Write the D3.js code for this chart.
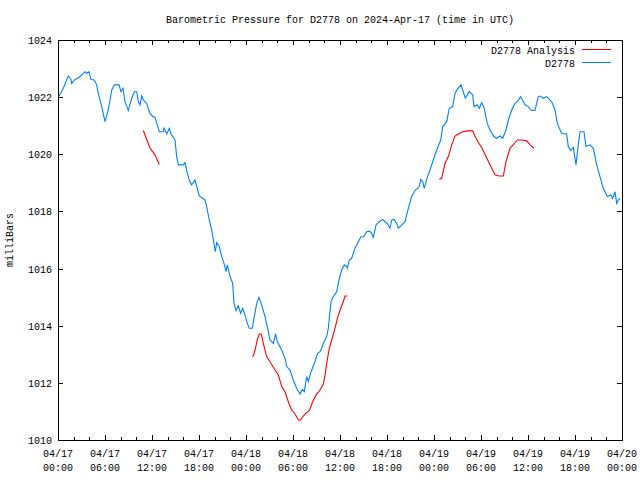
<!DOCTYPE html>
<html>
<head>
<meta charset="utf-8">
<script src="https://cdn.jsdelivr.net/npm/d3@7"></script>
<style>
  html, body { margin: 0; padding: 0; background: #ffffff; }
  svg text { font-family: "Liberation Mono", "DejaVu Sans Mono", monospace; font-size: 10px; fill: #000; }
</style>
</head>
<body>
<svg id="chart" width="640" height="480"></svg>
<script>
// ---- Data (hours since 2024-04-17 00:00 UTC, pressure in mb) ----
const stationHours = [0.13,0.68,1.31,1.66,1.75,2.17,2.68,3.45,3.66,3.96,4.21,4.63,4.94,5.14,5.58,6.0,6.42,6.86,7.19,7.79,8.04,8.30,8.55,8.97,9.41,9.74,10.05,10.25,10.47,10.69,10.89,11.32,11.74,12.04,12.38,12.93,13.44,13.53,13.88,14.21,14.39,14.72,14.94,15.15,15.36,16.0,16.21,16.51,16.76,17.07,17.49,17.71,18.04,18.47,18.77,18.98,19.31,19.62,19.91,20.08,20.26,20.59,20.90,21.19,21.45,21.61,21.96,22.30,22.47,22.72,23.02,23.32,23.58,23.87,24.17,24.42,24.80,25.06,25.37,25.66,26.0,26.43,26.77,27.06,27.49,27.79,28.0,28.56,28.98,29.20,29.62,30.04,30.47,30.89,31.19,31.44,31.75,31.95,32.30,32.81,33.15,33.45,33.66,33.87,34.30,34.51,34.85,35.14,35.58,35.87,36.22,36.55,36.86,36.93,37.19,37.49,37.91,38.34,38.64,39.06,39.41,39.74,40.05,40.25,40.6,41.02,41.45,41.74,42.04,42.38,42.6,42.89,43.24,43.44,43.88,44.3,44.72,45.15,45.57,45.87,46.12,46.3,46.56,46.76,47.14,47.49,47.91,48.26,48.86,49.11,49.62,49.95,50.39,50.68,50.97,51.45,51.66,52.0,52.5,52.94,53.11,53.53,53.79,54.09,54.38,54.8,55.15,55.66,56.0,56.43,56.77,57.19,57.49,57.92,58.34,58.64,59.07,59.32,59.62,60.04,60.47,60.89,61.31,61.53,61.95,62.39,63.03,63.45,63.74,64.3,64.94,65.14,65.45,65.78,66.13,66.42,66.64,67.15,67.4,67.91,68.34,68.77,69.19,69.61,70.12,70.56,70.81,71.11,71.32,71.53,71.74];
const stationValues = [1022.04,1022.31,1022.74,1022.62,1022.48,1022.62,1022.69,1022.89,1022.83,1022.89,1022.62,1022.60,1022.43,1022.13,1021.67,1021.14,1021.55,1022.25,1022.43,1022.43,1022.19,1022.31,1021.84,1021.53,1021.96,1022.19,1022.19,1021.84,1021.73,1022.04,1021.90,1021.78,1021.43,1021.34,1021.29,1020.79,1020.79,1020.91,1020.71,1020.91,1020.73,1020.59,1020.50,1019.92,1019.63,1019.63,1019.71,1019.33,1019.10,1018.93,1019.10,1018.87,1018.54,1018.46,1018.40,1018.17,1017.70,1017.35,1016.88,1016.59,1016.91,1016.77,1016.42,1016.18,1015.89,1016.13,1015.72,1015.48,1014.78,1014.53,1014.69,1014.43,1014.61,1014.38,1014.08,1013.91,1013.91,1014.32,1014.78,1014.99,1014.73,1014.32,1013.91,1013.50,1013.38,1013.71,1013.44,1013.15,1012.86,1012.57,1012.45,1012.10,1011.81,1011.61,1011.77,1011.69,1012.22,1012.04,1012.39,1012.74,1013.03,1013.09,1013.21,1013.38,1013.62,1013.91,1014.84,1015.02,1015.19,1015.60,1015.95,1016.13,1016.07,1016.01,1016.30,1016.36,1016.71,1016.94,1017.10,1017.12,1017.29,1017.31,1017.23,1017.09,1017.53,1017.64,1017.72,1017.64,1017.58,1017.41,1017.70,1017.72,1017.58,1017.41,1017.53,1017.64,1018.11,1018.52,1018.73,1018.81,1018.87,1019.12,1019.04,1018.81,1019.19,1019.45,1019.80,1020.09,1020.50,1020.97,1021.14,1021.61,1021.67,1022.13,1022.27,1022.43,1022.25,1021.96,1022.19,1022.08,1021.67,1021.73,1021.61,1021.81,1021.64,1021.08,1020.85,1020.62,1020.56,1020.64,1020.56,1020.85,1021.20,1021.55,1021.78,1021.84,1022.02,1021.88,1021.73,1021.67,1021.53,1021.53,1022.02,1022.04,1021.96,1022.02,1021.84,1021.55,1021.08,1020.73,1020.71,1020.27,1020.13,1020.24,1019.63,1020.33,1020.79,1020.79,1020.27,1020.33,1020.21,1019.63,1019.22,1018.81,1018.52,1018.58,1018.46,1018.69,1018.28,1018.40,1018.46];

// analysis: null values separate the three runs
const analysisHours = [10.89,11.74,12.38,12.93, 18.0,
  24.8,24.93,25.15,25.44,25.7,25.95,26.21,26.64,27.06,27.7,28.12,28.56,28.98,29.4,29.83,30.26,30.68,30.98,31.31,31.75,32.08,32.51,32.94,33.45,33.87,34.09,34.3,34.63,34.94,35.36,35.66,36.09,36.42,36.64,36.93, 42.0,
  48.68,48.98,49.4,49.83,50.26,50.68,51.1,51.66,52.25,52.94,53.23,53.66,54.09,54.64,55.15,55.79,56.3,56.85,57.19,57.7,58.21,58.64,59.2,59.83,60.26,60.77];
const analysisValues = [1020.83,1020.22,1019.98,1019.64, null,
  1012.92,1012.94,1013.15,1013.50,1013.71,1013.71,1013.38,1012.92,1012.74,1012.45,1012.28,1011.87,1011.69,1011.34,1011.05,1010.91,1010.70,1010.70,1010.84,1010.96,1011.03,1011.34,1011.57,1011.75,1011.96,1012.27,1012.68,1013.21,1013.50,1013.91,1014.26,1014.61,1014.84,1015.04,1015.04, null,
  1019.12,1019.16,1019.68,1019.92,1020.33,1020.64,1020.71,1020.79,1020.82,1020.82,1020.64,1020.41,1020.24,1019.92,1019.63,1019.28,1019.24,1019.24,1019.74,1020.21,1020.36,1020.50,1020.50,1020.47,1020.33,1020.21];

const yTicks = [1010,1012,1014,1016,1018,1020,1022,1024];
const xMajorHours = [0,6,12,18,24,30,36,42,48,54,60,66,72];
const xMinorHours = d3.range(0, 73, 2);

const titleText = "Barometric Pressure for D2778 on 2024-Apr-17 (time in UTC)";
const yLabel = "milliBars";
const seriesNames = ["D2778 Analysis", "D2778"];
const seriesColors = ["#ff0000", "#0080ff"];

// ---- Layout ----
const svg = d3.select("#chart");
const L = 58, R = 622, T = 40, B = 440;
const t0 = Date.UTC(2024, 3, 17, 0, 0);
const toDate = h => new Date(t0 + h * 3600e3);

const x = d3.scaleUtc().domain([toDate(0), toDate(72)]).range([L, R]);
const y = d3.scaleLinear().domain([1010, 1024]).range([B, T]);

// frame
svg.append("rect").attr("x", L + 0.5).attr("y", T + 0.5)
  .attr("width", R - L).attr("height", B - T)
  .attr("fill", "none").attr("stroke", "#000").attr("stroke-width", 1)
  .attr("shape-rendering", "crispEdges");

// ticks (inward), bottom and top
const tickG = svg.append("g").attr("stroke", "#000").attr("stroke-width", 1).attr("shape-rendering", "crispEdges");
xMinorHours.forEach(h => {
  const major = h % 6 === 0;
  const len = major ? 5 : 3;
  const px = Math.round(x(toDate(h))) + 0.5;
  tickG.append("line").attr("x1", px).attr("x2", px).attr("y1", B).attr("y2", B - len);
  tickG.append("line").attr("x1", px).attr("x2", px).attr("y1", T).attr("y2", T + len);
});
yTicks.forEach(v => {
  const py = Math.round(y(v)) + 0.5;
  tickG.append("line").attr("x1", L).attr("x2", L + 5).attr("y1", py).attr("y2", py);
  tickG.append("line").attr("x1", R).attr("x2", R - 5).attr("y1", py).attr("y2", py);
});

// y axis labels
const fmtDate = d3.utcFormat("%m/%d"), fmtTime = d3.utcFormat("%H:%M");
svg.append("g").selectAll("text").data(yTicks).join("text")
  .attr("x", L - 6).attr("y", d => y(d) + 4)
  .attr("text-anchor", "end").text(d => d);

// x axis labels (two lines)
const xl = svg.append("g").selectAll("g").data(xMajorHours).join("g")
  .attr("transform", d => `translate(${x(toDate(d))},0)`);
xl.append("text").attr("y", B + 17).attr("text-anchor", "middle").text(d => fmtDate(toDate(d)));
xl.append("text").attr("y", B + 31).attr("text-anchor", "middle").text(d => fmtTime(toDate(d)));

// title
svg.append("text").attr("x", (L + R) / 2).attr("y", 23).attr("text-anchor", "middle").text(titleText);

// y label
svg.append("text").attr("transform", `translate(13,${(T + B) / 2}) rotate(-90)`)
  .attr("text-anchor", "middle").text(yLabel);

// lines
const line = d3.line()
  .defined(d => d.v !== null)
  .x(d => x(toDate(d.h)))
  .y(d => y(d.v));

const stationData = stationHours.map((h, i) => ({ h, v: stationValues[i] }));
const analysisData = analysisHours.map((h, i) => ({ h, v: analysisValues[i] }));

svg.append("path").datum(analysisData).attr("d", line)
  .attr("fill", "none").attr("stroke", seriesColors[0]).attr("stroke-width", 1.1);
svg.append("path").datum(stationData).attr("d", line)
  .attr("fill", "none").attr("stroke", seriesColors[1]).attr("stroke-width", 1.1);

// legend
const lg = svg.append("g");
seriesNames.forEach((name, i) => {
  const ly = 50 + i * 13;
  lg.append("text").attr("x", 575).attr("y", ly + 4).attr("text-anchor", "end").text(name);
  lg.append("line").attr("x1", 582).attr("x2", 611).attr("y1", ly - 0.5).attr("y2", ly - 0.5)
    .attr("stroke", seriesColors[i]).attr("stroke-width", 1).attr("shape-rendering", "crispEdges");
});
</script>
</body>
</html>
